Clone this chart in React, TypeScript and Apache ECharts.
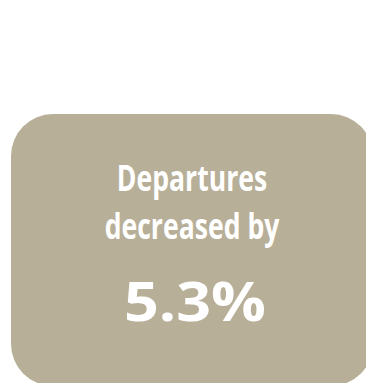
import React, { useEffect, useRef } from "react";
import * as echarts from "echarts";

const headlineLines: string[] = ["Departures", "decreased by"];
const changeValues: number[] = [5.3];
const changeUnit: string[] = ["%"];

export default function App() {
  const ref = useRef<HTMLDivElement>(null);
  useEffect(() => {
    if (!ref.current) return;
    const chart = echarts.init(ref.current, null, { renderer: "svg" });
    const cx = 192;
    const font = "Open Sans";
    const lineYs = [177, 225];
    const elements: any[] = [
      {
        type: "rect",
        shape: { x: 11, y: 114, width: 362, height: 272, r: 42 },
        style: { fill: "#b8af98" },
      },
    ];
    headlineLines.forEach((t, i) => {
      elements.push({
        type: "text",
        x: cx,
        y: lineYs[i],
        scaleX: 0.76,
        style: {
          text: t,
          fill: "#ffffff",
          font: `bold 35px "${font}"`,
          textAlign: "center",
          textVerticalAlign: "middle",
        },
      });
    });
    elements.push({
      type: "text",
      x: cx + 3,
      y: 301,
      scaleX: 1.15,
      style: {
        text: `${changeValues[0].toFixed(1)}${changeUnit[0]}`,
        fill: "#ffffff",
        font: `bold 53px "${font}"`,
        textAlign: "center",
        textVerticalAlign: "middle",
      },
    });
    chart.setOption({
      animation: false,
      graphic: { elements },
    });
    return () => chart.dispose();
  }, []);
  return (
    <div
      ref={ref}
      style={{ position: "fixed", left: 0, top: 0, width: 366, height: 383, background: "#ffffff" }}
    />
  );
}
